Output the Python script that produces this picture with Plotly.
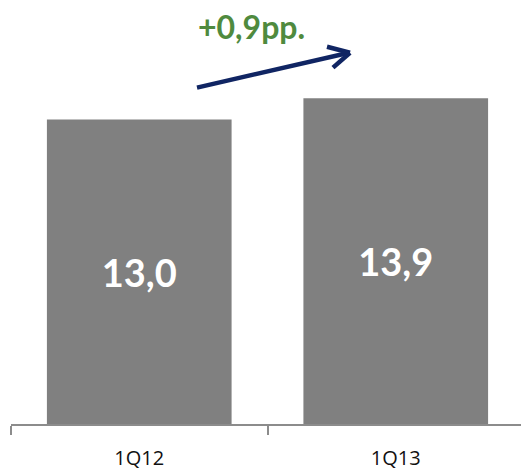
import plotly.graph_objects as go

categories = ["1Q12", "1Q13"]
values = [13.0, 13.9]
value_labels = ["13,0", "13,9"]
change_label = "+0,9pp."

W, H = 521, 471
L, R, T, B = 11, 0, 0, 45
pw, ph = W - L - R, H - T - B

def px(x):
    return (x - L) / pw

def py(y):
    return (H - B - y) / ph

fig = go.Figure()
fig.add_trace(go.Bar(
    x=categories, y=values, text=value_labels,
    textposition="inside", insidetextanchor="middle",
    textfont=dict(family="Lato", size=38, color="white", weight="bold"),
    marker=dict(color="#808080", line=dict(width=0)),
    cliponaxis=False, hoverinfo="skip",
))

navy = "#102563"
shapes = [
    dict(type="line", xref="paper", yref="paper", x0=px(197), y0=py(88), x1=px(349), y1=py(53),
         line=dict(color=navy, width=4.5)),
    dict(type="line", xref="paper", yref="paper", x0=px(327), y0=py(47), x1=px(350), y1=py(53),
         line=dict(color=navy, width=4.5)),
    dict(type="line", xref="paper", yref="paper", x0=px(333), y0=py(68), x1=px(350), y1=py(53),
         line=dict(color=navy, width=4.5)),
]

fig.update_layout(
    width=W, height=H,
    margin=dict(l=L, r=R, t=T, b=B),
    paper_bgcolor="white", plot_bgcolor="white",
    bargap=0.28, showlegend=False,
    font=dict(family="Open Sans", color="#222222"),
    shapes=shapes,
    annotations=[dict(text=change_label, xref="paper", yref="paper", x=px(251), y=py(27),
                      showarrow=False, xanchor="center", yanchor="middle",
                      font=dict(family="Lato", size=32, color="#4F8A3E", weight="bold"))],
    xaxis=dict(range=[-0.5, -0.5 + pw / 256.5], showgrid=False, zeroline=False,
               showline=True, linecolor="#8C8C8C", linewidth=2,
               ticks="outside", tickson="boundaries", ticklen=9, tickwidth=1.5, tickcolor="#8C8C8C",
               ticklabelstandoff=15,
               tickfont=dict(family="Open Sans", size=20, color="#111111", weight="normal"),
               fixedrange=True),
    yaxis=dict(range=[0, ph / 23.54], visible=False, fixedrange=True),
)
fig.write_html("out.html")
